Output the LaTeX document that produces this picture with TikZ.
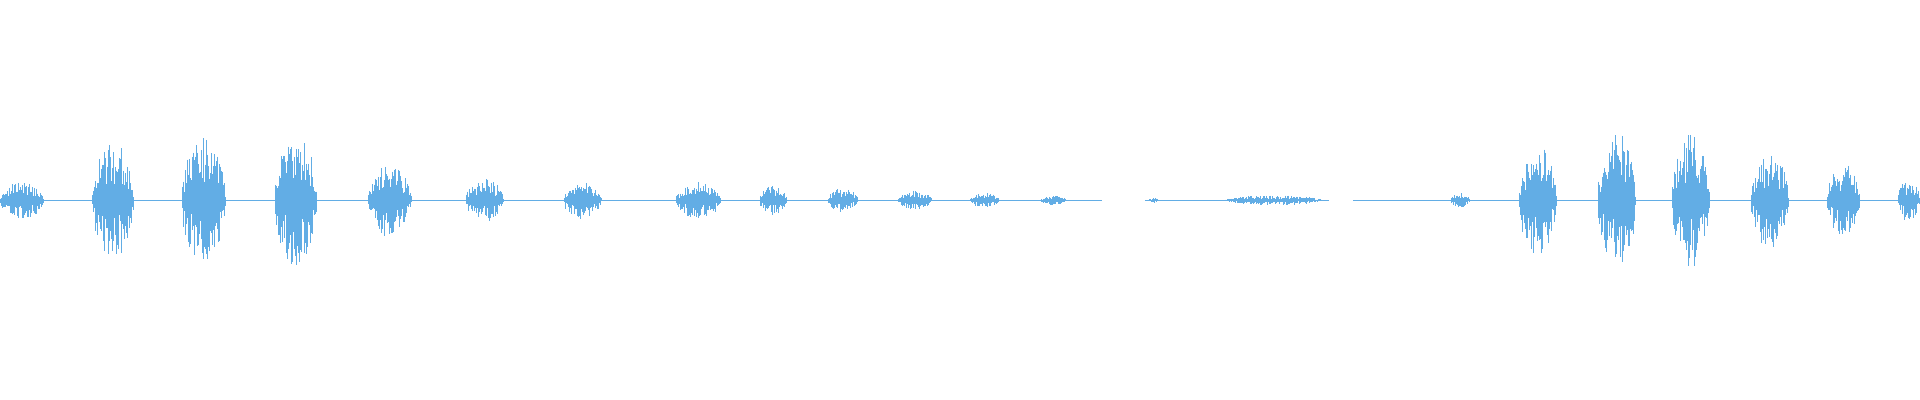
\documentclass[tikz,border=0pt]{standalone}
\usepackage{tikz}
\definecolor{wave}{RGB}{98,173,229}
\tikzset{waveline/.style={draw=wave, line width=0.25pt}}
\begin{document}
\begin{tikzpicture}[x=0.012245cm, y=0.012245cm]
    \useasboundingbox (0,0) rectangle (1568,326.6);
    \pgfmathsetseed{7}
    % baseline
    \draw[waveline] (0,163) -- (900,163);
    \draw[waveline] (935,163) -- (1085,163);
    \draw[waveline] (1105,163) -- (1568,163);
    % bursts: start/end/amplitude
    \foreach \s/\e/\a in {0/36/15, 75/109/50, 148/184/52, 224/259/55, 300/336/30,
        380/411/18, 460/491/15, 552/589/15, 620/643/12, 676/701/10, 733/761/8,
        792/816/6, 850/871/4, 938/946/2, 1000/1080/4, 1185/1200/6, 1240/1271/45,
        1305/1336/58, 1365/1396/55, 1430/1461/40, 1492/1519/30, 1550/1568/18} {
        \pgfmathsetmacro{\stp}{0.7}
        \pgfmathsetmacro{\nxt}{\s+\stp}
        \foreach \x in {\s,\nxt,...,\e} {
            \pgfmathsetmacro{\env}{\a*sqrt(abs(sin(180*(\x-\s)/(\e-\s))))}
            \pgfmathsetmacro{\up}{\env*(0.25+0.75*rnd)}
            \pgfmathsetmacro{\dn}{\env*(0.25+0.75*rnd)}
            \draw[waveline] (\x,163+\up) -- (\x,163-\dn);
        }
    }
\end{tikzpicture}
\end{document}
